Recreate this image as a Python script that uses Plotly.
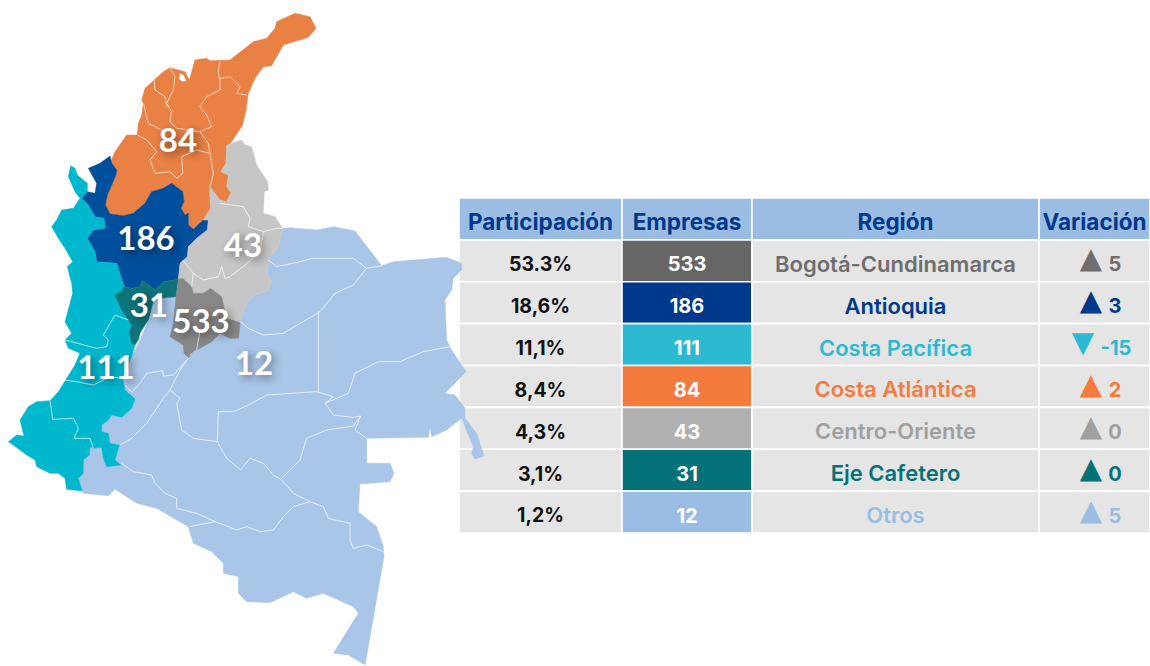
import plotly.graph_objects as go

headers = ["Participación", "Empresas", "Región", "Variación"]
participacion = ["53.3%", "18,6%", "11,1%", "8,4%", "4,3%", "3,1%", "1,2%"]
empresas = [533, 186, 111, 84, 43, 31, 12]
regiones = ["Bogotá-Cundinamarca", "Antioquia", "Costa Pacífica", "Costa Atlántica",
            "Centro-Oriente", "Eje Cafetero", "Otros"]
variacion = [5, 3, -15, 2, 0, 0, 5]
cell_colors = ["#666666", "#00388B", "#2BBAD2", "#F47A3D", "#B0B0B0", "#057178", "#9BBDE4"]
text_colors = ["#6E6E6E", "#00388B", "#2BBAD2", "#F47A3D", "#A0A0A0", "#057178", "#9BBDE4"]
column_widths = [163, 130, 287, 111]

map_labels = ["84", "186", "43", "31", "533", "111", "12"]
map_label_x = [534, 438, 729, 447, 603, 318, 762]
map_label_y = [432, 726, 747, 927, 975, 1112, 1101]

# Outlines, map units (one unit = one third of a pixel)
otros_x = [848,870,950,1000,1065,1145,1180,1340,1385,1385,1360,1355,1335,1340,1340,1355,1398,1335,1365,1395,1395,1430,1452,1425,1415,1420,1395,1385,1340,1295,1290,1285,1100,1100,1170,1182,1170,1080,1075,1130,1150,1152,1095,1045,1000,1075,1060,970,920,880,810,740,715,715,670,670,635,580,565,530,470,410,345,325,250,235,250,270,280,305,310,320,362,345,358,330,325,305,305,325,335,365,395,405,375,368,375,395,420,445,460,480,528,722,735,755,780,805,815,803,805,835]
otros_y = [685,683,690,680,693,797,785,772,790,810,835,870,900,1000,1020,1050,1115,1180,1185,1225,1255,1300,1368,1378,1360,1340,1280,1255,1290,1310,1282,1312,1315,1390,1390,1420,1445,1452,1535,1580,1640,1670,1995,1965,1960,1840,1820,1780,1795,1775,1808,1805,1780,1730,1720,1690,1655,1630,1580,1560,1525,1510,1468,1487,1480,1435,1380,1340,1345,1342,1375,1400,1395,1380,1335,1330,1300,1295,1275,1260,1245,1252,1225,1197,1170,1135,1115,1070,1020,960,905,895,890,965,920,890,880,870,845,825,780,740]

atlantica_x = [885,930,948,925,850,830,815,790,765,745,738,728,695,680,678,665,662,685,680,693,680,660,638,628,632,610,580,565,565,555,543,552,548,515,490,455,435,400,370,330,316,322,348,350,330,345,380,412,415,425,430,425,435,462,490,510,555,568,585,620,630,690,730,760,800,825,830,860]
atlantica_y = [40,50,85,112,135,170,197,200,235,280,330,375,425,440,490,510,515,525,560,578,605,600,570,560,625,660,688,675,640,645,625,605,575,550,565,575,610,640,647,642,615,585,525,510,490,455,405,405,370,345,310,300,265,240,215,203,215,240,180,175,182,180,150,125,115,85,65,50]

cienaga_x = [540,550,558,548,538]
cienaga_y = [222,225,242,244,238]

antioquia_x = [330,335,350,348,322,316,330,370,400,435,455,490,515,548,552,543,555,565,565,580,610,625,622,590,565,562,540,535,490,465,440,425,420,395,372,362,350,290,285,262,280,315,312,285,265,245,262,285,290,265,300]
antioquia_y = [468,490,510,525,585,615,642,647,640,610,575,565,550,575,605,625,645,640,675,688,660,660,690,715,740,770,790,838,845,870,850,842,860,865,860,825,790,785,755,715,690,685,655,650,615,595,575,580,550,505,490]

pacifica_x = [212,225,232,262,262,245,265,285,312,315,280,262,285,290,350,362,372,390,345,365,385,395,388,395,405,395,375,368,375,405,395,365,335,325,305,305,325,330,358,345,362,320,310,305,280,270,268,250,250,235,247,200,195,175,150,110,105,80,40,25,50,72,60,85,110,150,175,200,225,240,205,195,215,195,218,215,202,218,195,175,155,170,185,220,240,225,205]
pacifica_y = [497,505,525,550,575,595,615,650,655,685,690,715,755,785,790,825,860,870,885,930,960,975,1000,1030,1035,1070,1115,1135,1170,1197,1225,1252,1245,1260,1275,1295,1300,1330,1335,1380,1395,1400,1375,1342,1345,1340,1365,1380,1420,1435,1473,1468,1435,1420,1420,1400,1380,1365,1335,1325,1305,1308,1260,1220,1205,1202,1175,1135,1095,1060,1045,1020,1000,965,880,850,800,785,745,715,680,660,630,625,595,575,530]

cafetero_x = [372,395,420,425,440,465,490,535,528,480,460,445,435,420,415,405,395,388,395,385,365,345,365]
cafetero_y = [860,865,860,842,850,870,845,838,890,895,905,960,975,1000,1020,1035,1030,1000,975,960,930,885,875]

bogota_x = [548,575,580,610,632,665,680,720,716,690,660,635,590,565,552,550,510,520,528,535]
bogota_y = [835,860,880,880,865,890,955,968,1015,1015,1000,1025,1050,1072,1060,1035,1010,970,890,838]

oriente_x = [680,725,735,755,770,803,805,793,790,825,848,835,805,803,815,805,780,755,735,722,680,665,632,610,580,575,548,535,540,562,565,590,622,625,610,632,628,638,660,680,693,680,685,662,678]
oriente_y = [435,420,435,440,495,545,570,575,640,650,685,740,780,825,845,870,880,890,920,965,955,890,865,880,880,860,835,838,790,770,740,715,690,660,660,625,560,570,600,605,578,560,525,515,490]

borders = [
    ([805,830,900,940,1060,1100,1145], [780,800,785,775,775,805,797]),
    ([1100,1060,1005,960,850,790,745,722], [805,855,880,935,1000,1005,985,965]),
    ([955,955], [935,1175]),
    ([1350,1270,1200,1135,1065,1045,975,1000,1060,1082,1065,1100], [1040,1055,1085,1085,1120,1180,1210,1245,1252,1248,1290,1315]),
    ([655,700,745,800,950,1000,975], [1235,1235,1215,1185,1175,1190,1210]),
    ([655,652,680,722,750,790,820,845,880,930,970,985,1050,1050,1060,1100,1150], [1235,1325,1375,1410,1375,1390,1425,1440,1480,1505,1520,1555,1570,1620,1645,1635,1655]),
    ([652,580,545,530,540,510,490,440,395,360], [1325,1315,1290,1210,1195,1170,1195,1270,1315,1335]),
    ([510,540,565,520,490,488,440,420,395,375], [1170,1110,1075,1125,1128,1112,1120,1150,1177,1155]),
    ([845,900,920,980,1060,1082], [1435,1380,1315,1290,1278,1248]),
    ([930,880,850,820,780,740,710,645,570], [1505,1520,1550,1590,1595,1580,1590,1565,1580]),
    ([645,590,530,530,495,465,455,400,365], [1565,1540,1525,1495,1480,1450,1425,1415,1390]),
    ([600,590,570], [990,1050,1065]),
    ([195,230,280,330,370], [1140,1145,1155,1130,1135]),
    ([150,158,220,235,222,270,280], [1202,1258,1255,1285,1315,1315,1345]),
    ([195,215,290,320,325,310,345,385], [1020,1025,1045,1040,1020,1005,945,960]),
    ([510,525,520,500,515,510,530,600,625,630,640,630], [203,230,270,310,335,365,385,395,430,460,520,560]),
    ([462,465,495,500], [240,270,290,320]),
    ([430,445,485], [310,370,390]),
    ([412,440,470,450,465,510,530,548,545,590,630], [405,420,455,480,520,515,535,520,470,450,460]),
    ([600,635,620,600,620,660,660,655,660], [395,380,345,320,290,270,245,215,185]),
    ([660,690,720,710,740], [235,230,260,280,285]),
    ([660,730,750,745,790,830,848], [610,620,655,680,695,685,685]),
    ([790,780,735,690,675,665,655,610,580,548], [695,755,795,830,835,800,830,840,820,780]),
    ([580,575], [820,860]),
]

fills = [
    ("Otros", otros_x, otros_y, "#A9C6E9"),
    ("Costa Atlántica", atlantica_x, atlantica_y, "#E98044"),
    ("", cienaga_x, cienaga_y, "#FFFFFF"),
    ("Antioquia", antioquia_x, antioquia_y, "#004F9C"),
    ("Costa Pacífica", pacifica_x, pacifica_y, "#00B8CE"),
    ("Centro-Oriente", oriente_x, oriente_y, "#C6C6C6"),
    ("Eje Cafetero", cafetero_x, cafetero_y, "#0E7479"),
    ("Bogotá-Cundinamarca", bogota_x, bogota_y, "#888888"),
]

FONT = "Inter"
HEAD_BG, ROW_BG, HEAD_TXT = "#9BBDE4", "#E5E5E5", "#00388B"
TEXT_DY = 0.13  # rows are one unit tall
rows = list(range(8))
col_left = [459 + sum(column_widths[:i]) for i in range(4)]
col_mid = [col_left[i] + column_widths[i] / 2 for i in range(4)]
col_text = [participacion, [str(e) for e in empresas], regiones]
col_fill = [[ROW_BG]*7, cell_colors, [ROW_BG]*7, [ROW_BG]*7]
col_txtcolor = [["#111111"]*7, ["white"]*7, text_colors]
col_size = [19.5, 20, 22]
col_weight = [700, 700, 600]

fig = go.Figure()

# Table cells: one bar per cell, one bar trace per column
for i in range(4):
    fig.add_trace(go.Bar(
        y=rows, x=[column_widths[i]] * 8, base=[col_left[i]] * 8, orientation="h", width=1,
        marker=dict(color=[HEAD_BG] + col_fill[i], line=dict(color="white", width=1.6)),
        hoverinfo="skip", showlegend=False, xaxis="x", yaxis="y"))

# Table texts
fig.add_trace(go.Scatter(
    x=col_mid, y=[TEXT_DY] * 4, text=headers, mode="text", cliponaxis=False,
    textfont=dict(family=FONT, size=22.5, color=HEAD_TXT, weight=700),
    hoverinfo="skip", showlegend=False, xaxis="x", yaxis="y"))
for i in range(3):
    fig.add_trace(go.Scatter(
        x=[col_mid[i]] * 7, y=[r + TEXT_DY for r in rows[1:]], text=col_text[i], mode="text",
        textfont=dict(family=FONT, size=col_size[i], color=col_txtcolor[i], weight=col_weight[i]),
        hoverinfo="skip", showlegend=False, xaxis="x", yaxis="y"))

fig.add_trace(go.Scatter(
    x=[1091 if v >= 0 else 1083 for v in variacion], y=[r + 0.01 for r in rows[1:]],
    text=["▲" if v >= 0 else "▼" for v in variacion], mode="text",
    textfont=dict(family="DejaVu Sans", size=29, color=text_colors),
    hoverinfo="skip", showlegend=False, xaxis="x", yaxis="y"))
fig.add_trace(go.Scatter(
    x=[1115 if v >= 0 else 1116 for v in variacion], y=[r + TEXT_DY for r in rows[1:]],
    text=[str(v) for v in variacion], mode="text",
    textfont=dict(family=FONT, size=20, color=text_colors, weight=700),
    hoverinfo="skip", showlegend=False, xaxis="x", yaxis="y"))

# Map, above the table
for name, xs, ys, color in fills:
    fig.add_trace(go.Scatter(x=xs + xs[:1], y=ys + ys[:1], mode="lines", fill="toself",
                             fillcolor=color, line=dict(color=color, width=0.5),
                             hoverinfo="text" if name else "skip", text=name, showlegend=False,
                             xaxis="x2", yaxis="y2"))

for xs, ys in borders:
    fig.add_trace(go.Scatter(x=xs, y=ys, mode="lines",
                             line=dict(color="rgba(255,255,255,0.85)", width=0.8),
                             hoverinfo="skip", showlegend=False, xaxis="x2", yaxis="y2"))

fig.add_trace(go.Scatter(
    x=map_label_x, y=map_label_y, text=map_labels, mode="text", textposition="middle center",
    textfont=dict(family="Lato", size=33, color="white", weight=700,
                  shadow="3px 3px 8px rgba(0,0,0,0.45)"),
    hoverinfo="skip", showlegend=False, xaxis="x2", yaxis="y2"))

hidden = dict(visible=False, fixedrange=True)
fig.update_layout(
    width=1150, height=666, margin=dict(l=0, r=0, t=0, b=0),
    paper_bgcolor="white", plot_bgcolor="rgba(0,0,0,0)", showlegend=False,
    barmode="overlay",
    xaxis=dict(range=[459, 1150], domain=[459/1150, 1], anchor="y", **hidden),
    yaxis=dict(domain=[1-533/666, 1-198/666], anchor="x", range=[7.5, -0.5], **hidden),
    xaxis2=dict(range=[0, 3450], domain=[0, 1], anchor="y2", **hidden),
    yaxis2=dict(range=[1998, 0], domain=[0, 1], anchor="x2", **hidden))
fig.write_html("out.html", config=dict(displayModeBar=False),
               post_script="document.body.style.margin='0';")
